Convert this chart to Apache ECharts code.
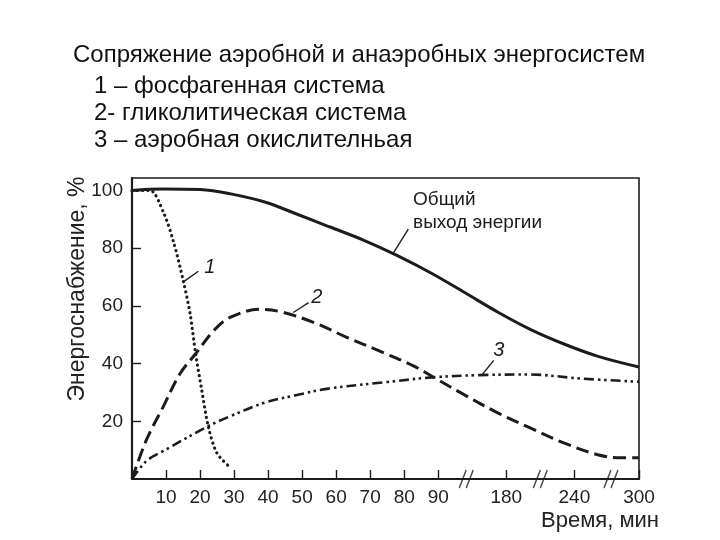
<!DOCTYPE html>
<html><head><meta charset="utf-8">
<script src="https://cdn.jsdelivr.net/npm/echarts@6/dist/echarts.min.js"></script>
<style>html,body{margin:0;padding:0;background:#fff}#c{width:720px;height:540px}</style>
</head><body><div id="c"></div>
<script>
// ---- texts ----
const titleText = 'Сопряжение аэробной и анаэробных энергосистем';
const legendLines = ['1 – фосфагенная система', '2- гликолитическая система', '3 – аэробная окислителньая'];
const yName = 'Энергоснабжение, %';
const xName = 'Время, мин';

// ---- axis ----
const xTickMinutes = [10, 20, 30, 40, 50, 60, 70, 80, 90, 180, 240, 300];
const xTickLabels = ['10', '20', '30', '40', '50', '60', '70', '80', '90', '180', '240', '300'];
const yTicks = [20, 40, 60, 80, 100];
// broken time axis: minute anchors and their positions on the drawn axis
const segMinutes = [0, 90, 180, 240, 300];
const segPositions = [0, 9, 11, 13, 14.9];
const breakMinutes = [127, 210, 274];

// ---- series (time in minutes, supply in %) ----
const totalT = [0, 9, 20, 29, 39, 48, 58, 68, 78, 88, 125, 169, 202, 232, 262, 300];
const totalV = [100, 100.5, 100.3, 98.8, 96, 92, 87.4, 82.8, 77.4, 71.3, 64.6, 57.8, 51.7, 46.6, 42.5, 38.8];
const phosT = [0, 5.3, 9.2, 12.2, 15.1, 17.1, 18.7, 20.5, 22.4, 24.9, 28.3];
const phosV = [100, 100, 92.5, 82.2, 68.5, 57.1, 43.4, 30.8, 18.3, 9.1, 4.6];
const glyT = [0, 4.3, 9.2, 14.1, 18.7, 24, 28.8, 37.6, 43.5, 53.3, 63.1, 73, 82.7, 89.6, 123, 168, 201, 230.7, 261, 279.5, 300];
const glyV = [0, 13.7, 25.1, 36.5, 43.4, 51.4, 56, 58.8, 58, 54.3, 49.1, 44.2, 39.2, 34.6, 29.4, 23.0, 17.7, 12.5, 8.5, 7.4, 7.4];
const aerT = [0, 4.3, 9.2, 22.4, 28.8, 38.6, 48.4, 58.2, 75, 88, 144, 201, 246, 300];
const aerV = [0, 6.3, 9.7, 18.3, 21.7, 26.3, 29.1, 31.4, 33.6, 35.2, 36, 36.2, 34.8, 33.7];

// ---- annotations: leader [t1,v1,t2,v2], label anchor [t,v] ----
const totalLeader = [76.8, 78.3, 81.2, 86.6];
const totalLabelAt = [82.6, 100.6];
const totalLabel = 'Общий\nвыход энергии';
const phosLeader = [15.1, 68.3, 19.5, 72];
const phosLabelAt = [22.9, 73.2];
const glyLeader = [47.4, 57.7, 51.9, 61.1];
const glyLabelAt = [54.3, 62.8];
const aerLeader = [147.6, 36, 163.4, 41.1];
const aerLabelAt = [170, 44.5];

function pos(t) {
  for (let i = 1; i < segMinutes.length; i++) {
    if (t <= segMinutes[i]) {
      const a = segMinutes[i - 1], b = segMinutes[i];
      return segPositions[i - 1] + (t - a) / (b - a) * (segPositions[i] - segPositions[i - 1]);
    }
  }
  return segPositions[segPositions.length - 1];
}
const pts = (T, V) => T.map((t, i) => [pos(t), V[i]]);
const INK = '#1c1c1c';
const FONT = '"Liberation Sans", Arial, sans-serif';

function leader(L) {
  return {
    silent: true, symbol: ['none', 'none'], label: { show: false },
    lineStyle: { color: INK, width: 1.4, type: 'solid' },
    emphasis: { disabled: true },
    data: [[{ coord: [pos(L[0]), L[1]] }, { coord: [pos(L[2]), L[3]] }]]
  };
}
function note(at, text, opts) {
  return {
    silent: true, symbol: 'circle', symbolSize: 1, itemStyle: { color: 'rgba(0,0,0,0)' },
    label: Object.assign({ show: true, position: 'inside', formatter: text, color: INK, fontFamily: FONT }, opts),
    data: [{ coord: [pos(at[0]), at[1]] }]
  };
}

const chart = echarts.init(document.getElementById('c'));
chart.setOption({
  animation: false,
  backgroundColor: '#fff',
  title: [
    { text: titleText, left: 73, top: 43, padding: 0, textStyle: { fontFamily: FONT, fontSize: 24, fontWeight: 'normal', color: '#111', lineHeight: 24 } },
    { text: legendLines.join('\n'), left: 94, top: 73, padding: 0, textStyle: { fontFamily: FONT, fontSize: 24, fontWeight: 'normal', color: '#111', lineHeight: 27 } }
  ],
  grid: { left: 132, right: 81, top: 178, bottom: 61, show: true, borderColor: INK, borderWidth: 1.6, backgroundColor: 'transparent' },
  xAxis: {
    type: 'value', min: 0, max: pos(300),
    name: xName, nameLocation: 'end', nameGap: 20, nameMoveOverlap: false,
    nameTextStyle: { fontFamily: FONT, fontSize: 22, color: '#222', align: 'right', verticalAlign: 'top', padding: [31, 0, 0, 0] },
    axisLine: { lineStyle: { color: INK, width: 2 } },
    axisTick: { show: true, inside: true, length: 9, customValues: xTickMinutes.map(pos), lineStyle: { color: INK, width: 1.4 } },
    axisLabel: {
      customValues: xTickMinutes.map(pos), margin: 9, fontFamily: FONT, fontSize: 19, color: '#222',
      formatter: v => {
        let best = 0, d = Infinity;
        xTickMinutes.forEach((t, i) => { const e = Math.abs(pos(t) - v); if (e < d) { d = e; best = i; } });
        return xTickLabels[best];
      }
    },
    splitLine: { show: false }
  },
  yAxis: {
    type: 'value', min: 0, max: 104.3,
    name: yName, nameLocation: 'middle', nameGap: 43, nameRotate: 90, nameMoveOverlap: false,
    nameTextStyle: { fontFamily: FONT, fontSize: 23, color: '#222', padding: [0, 0, 0, 79] },
    axisLine: { lineStyle: { color: INK, width: 2.2 } },
    axisTick: { show: true, inside: true, length: 9, customValues: yTicks, lineStyle: { color: INK, width: 1.4 } },
    axisLabel: { customValues: yTicks, margin: 9, fontFamily: FONT, fontSize: 19, color: '#222' },
    splitLine: { show: false }
  },
  series: [
    {
      name: 'Общий выход энергии', type: 'line', data: pts(totalT, totalV), smooth: 0.35, symbol: 'none',
      lineStyle: { color: INK, width: 3 }, z: 5,
      markLine: leader(totalLeader),
      markPoint: note(totalLabelAt, totalLabel, { align: 'left', verticalAlign: 'top', fontSize: 19, lineHeight: 23 })
    },
    {
      name: '1', type: 'line', data: pts(phosT, phosV), smooth: 0.3, symbol: 'none',
      lineStyle: { color: INK, width: 3.2, type: [0.1, 5.2], cap: 'round' }, z: 4,
      markLine: leader(phosLeader),
      markPoint: note(phosLabelAt, '1', { align: 'center', verticalAlign: 'middle', fontSize: 20, fontStyle: 'italic' })
    },
    {
      name: '2', type: 'line', data: pts(glyT, glyV), smooth: 0.35, symbol: 'none',
      lineStyle: { color: INK, width: 3, type: [13, 6] }, z: 4,
      markLine: leader(glyLeader),
      markPoint: note(glyLabelAt, '2', { align: 'center', verticalAlign: 'middle', fontSize: 20, fontStyle: 'italic' })
    },
    {
      name: '3', type: 'line', data: pts(aerT, aerV), smooth: 0.35, symbol: 'none',
      lineStyle: { color: INK, width: 2.6, type: [10, 4, 2.5, 3.5, 2.5, 4] }, z: 4,
      markLine: leader(aerLeader),
      markPoint: note(aerLabelAt, '3', { align: 'center', verticalAlign: 'middle', fontSize: 20, fontStyle: 'italic' })
    },
    {
      name: 'breaks', type: 'scatter', data: breakMinutes.map(t => [pos(t), 0]),
      symbol: 'path://M0,18L6,0M6,18L12,0', symbolSize: [14, 18],
      itemStyle: { color: 'rgba(0,0,0,0)', borderColor: INK, borderWidth: 1.5 },
      silent: true, z: 6, clip: false
    }
  ]
});
</script></body></html>
